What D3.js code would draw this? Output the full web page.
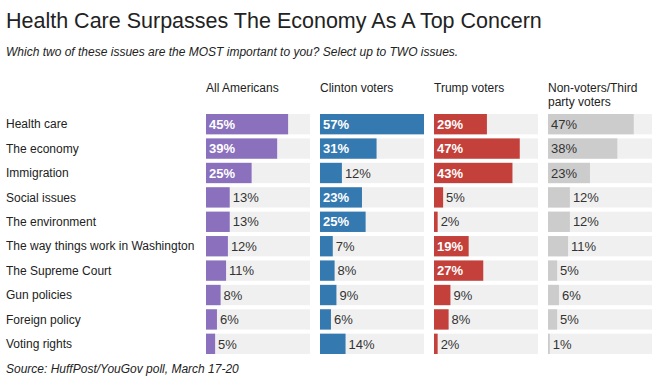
<!DOCTYPE html>
<html>
<head>
<meta charset="utf-8">
<script src="https://cdn.jsdelivr.net/npm/d3@7"></script>
<style>
  body { margin: 0; background: #fff; }
  text { font-family: "Liberation Sans", Arial, Helvetica, sans-serif; }
</style>
</head>
<body>
<div id="chart"></div>
<script>
// issues, top to bottom
const issues = [
  "Health care", "The economy", "Immigration", "Social issues", "The environment",
  "The way things work in Washington", "The Supreme Court", "Gun policies",
  "Foreign policy", "Voting rights"
];

// one array per group, same order as issues
const allAmericans = [45, 39, 25, 13, 13, 12, 11, 8, 6, 5];
const clintonVoters = [57, 31, 12, 23, 25, 7, 8, 9, 6, 14];
const trumpVoters = [29, 47, 43, 5, 2, 19, 27, 9, 8, 2];
const nonVoters = [47, 38, 23, 12, 12, 11, 5, 6, 5, 1];

const groupNames = [["All Americans"], ["Clinton voters"], ["Trump voters"], ["Non-voters/Third", "party voters"]];
const groupColors = ["#8a70bd", "#3579b1", "#c3403b", "#cccccc"];

const columns = [allAmericans, clintonVoters, trumpVoters, nonVoters].map((vals, i) => ({
  name: groupNames[i], color: groupColors[i], values: vals, light: i === 3
}));

const width = 662, height = 385;

const svg = d3.select("#chart").append("svg")
  .attr("width", width)
  .attr("height", height);

// === Title / subtitle ===
svg.append("text")
  .attr("x", 6).attr("y", 28)
  .attr("font-size", 21.5)
  .attr("fill", "#222")
  .text("Health Care Surpasses The Economy As A Top Concern");

svg.append("text")
  .attr("x", 6).attr("y", 56)
  .attr("font-size", 12)
  .attr("font-style", "italic")
  .attr("fill", "#222")
  .text("Which two of these issues are the MOST important to you? Select up to TWO issues.");

// === Scales ===
// 4 columns, 104px wide, 10px apart
const colX = d3.scaleBand()
  .domain(d3.range(columns.length))
  .range([206, 206 + 4 * 104 + 3 * 10])
  .paddingInner(10 / 114)
  .paddingOuter(0);

const y = d3.scaleBand()
  .domain(issues)
  .range([114, 114 + 10 * 24])
  .paddingInner(4 / 24)
  .paddingOuter(0)
  .align(0);

const x = d3.scaleLinear()
  .domain([0, 57])
  .range([0, colX.bandwidth()]);

// === Row labels ===
svg.append("g")
  .selectAll("text")
  .data(issues)
  .join("text")
  .attr("x", 6)
  .attr("y", d => y(d) + y.bandwidth() / 2)
  .attr("dy", "0.35em")
  .attr("font-size", 12)
  .attr("fill", "#222")
  .text(d => d);

// === Columns ===
const col = svg.append("g")
  .selectAll("g")
  .data(columns)
  .join("g")
  .attr("transform", (d, i) => `translate(${colX(i)},0)`);

col.selectAll("text.head")
  .data(d => d.name)
  .join("text")
  .attr("class", "head")
  .attr("x", 0)
  .attr("y", (d, i) => 92 + i * 14)
  .attr("font-size", 12)
  .attr("fill", "#222")
  .text(d => d);

const row = col.selectAll("g.row")
  .data(d => d.values.map((v, i) => ({ v, issue: issues[i], color: d.color, light: d.light })))
  .join("g")
  .attr("class", "row")
  .attr("transform", d => `translate(0,${y(d.issue)})`);

row.append("rect")
  .attr("width", colX.bandwidth())
  .attr("height", y.bandwidth())
  .attr("fill", "#f0f0f0");

row.append("rect")
  .attr("width", d => x(d.v))
  .attr("height", y.bandwidth())
  .attr("fill", d => d.color);

// value labels: inside (bold white) when the bar is wide enough, else just past its end
row.append("text")
  .attr("x", d => d.v >= 15 ? 3 : x(d.v) + 3)
  .attr("y", y.bandwidth() / 2)
  .attr("dy", "0.36em")
  .attr("font-size", 13)
  .attr("font-weight", d => d.v >= 15 && !d.light ? "bold" : "normal")
  .attr("fill", d => d.v >= 15 && !d.light ? "#fff" : "#333")
  .text(d => d.v + "%");

// === Source ===
svg.append("text")
  .attr("x", 6).attr("y", 373)
  .attr("font-size", 12)
  .attr("font-style", "italic")
  .attr("fill", "#222")
  .text("Source: HuffPost/YouGov poll, March 17-20");
</script>
</body>
</html>
